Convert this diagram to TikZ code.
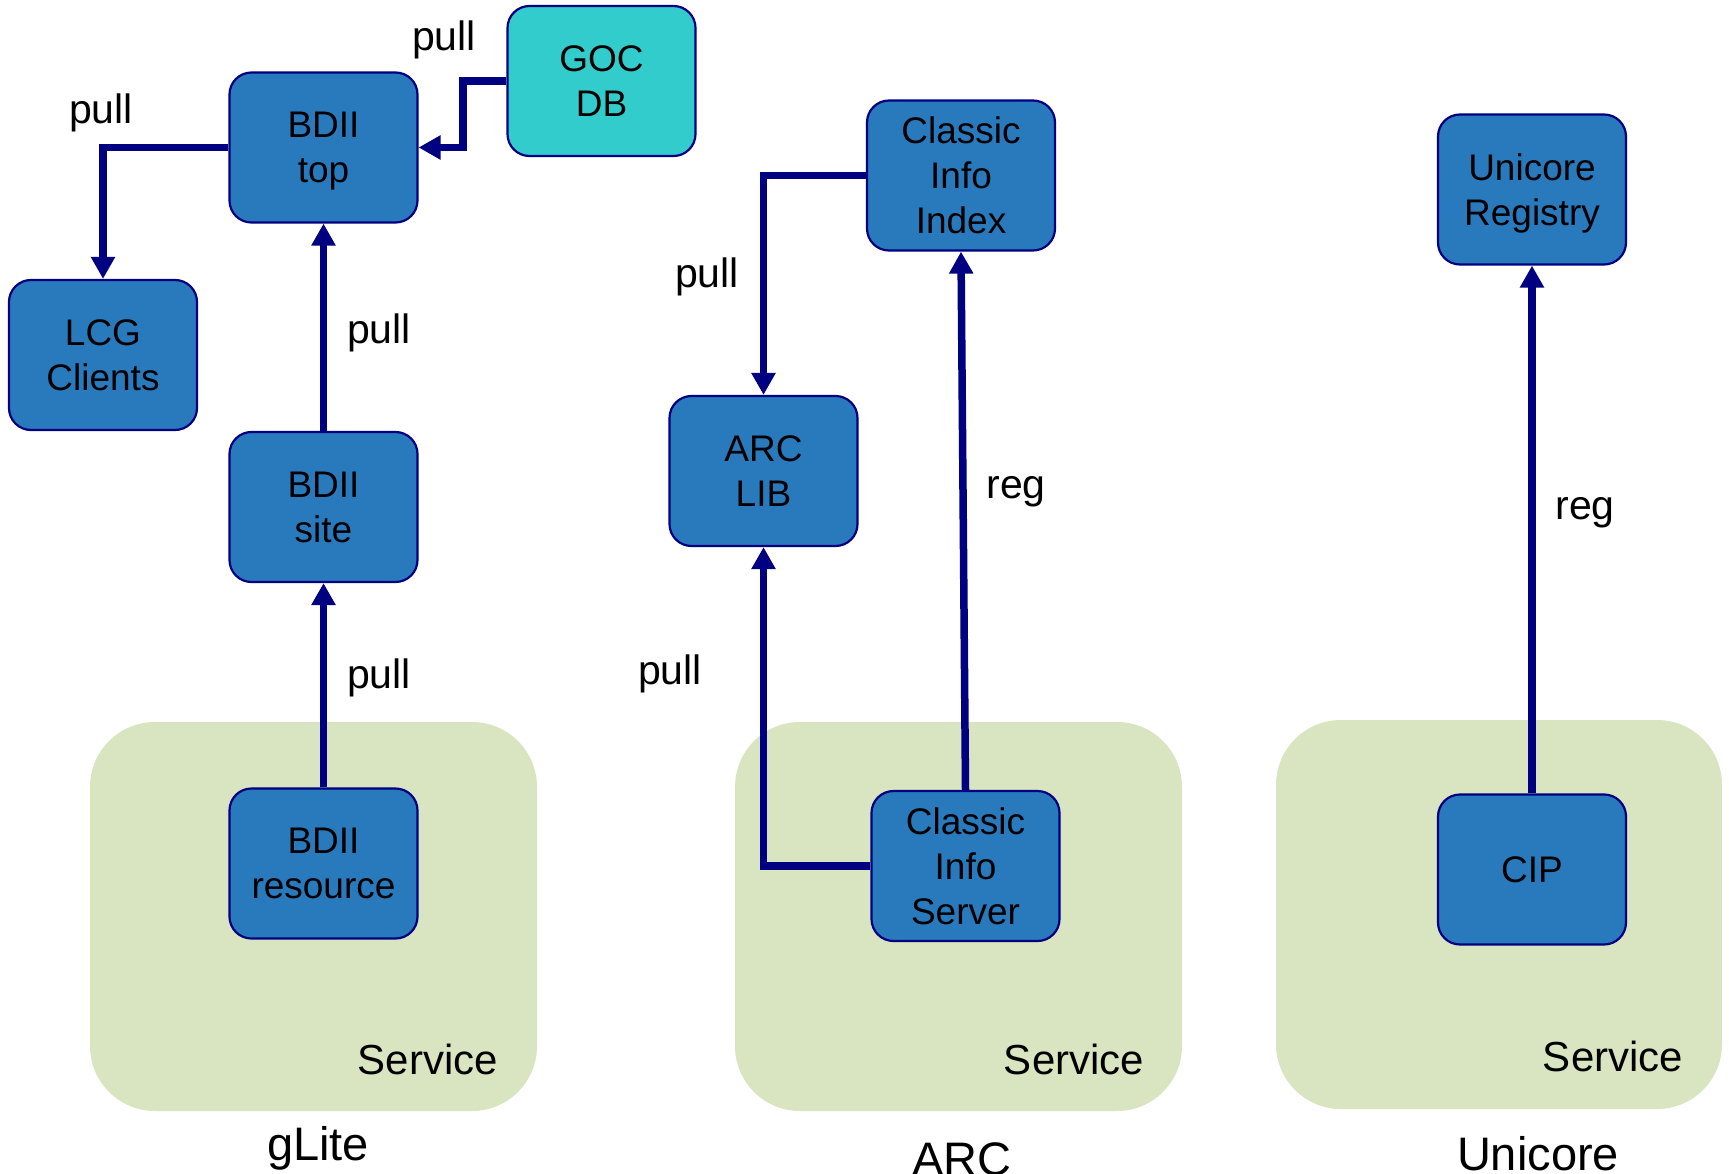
\documentclass[tikz,border=0pt]{standalone}
\usepackage{fontspec}
\setmainfont{Liberation Sans}
\usetikzlibrary{arrows.meta}
\definecolor{navy}{RGB}{0,0,128}
\definecolor{boxblue}{RGB}{41,121,189}
\definecolor{gocteal}{RGB}{51,204,204}
\definecolor{svcgreen}{RGB}{217,228,192}
\tikzset{
  comp/.style={draw=navy, line width=2.2pt, fill=boxblue, rounded corners=22pt,
    minimum width=188pt, minimum height=150pt, align=center, inner sep=0pt,
    text depth=-4.4pt, font=\fontsize{37}{45}\selectfont},
  goc/.style={comp, fill=gocteal},
  svc/.style={fill=svcgreen, rounded corners=65pt},
  conn/.style={draw=navy, line width=7.5pt, -{Triangle[length=22pt,width=23pt]}},
  lbl/.style={font=\fontsize{41}{48}\selectfont, inner sep=0pt},
  svclbl/.style={font=\fontsize{42}{48}\selectfont, inner sep=0pt},
  title/.style={font=\fontsize{47}{54}\selectfont, inner sep=0pt}
}
\begin{document}
\begin{tikzpicture}[x=1pt,y=-1pt]
\useasboundingbox (0,0) rectangle (1729,1174);
\fill[white] (0,0) rectangle (1729,1174);
% service regions
\fill[svc] (90,722) rectangle (537,1111);
\fill[svc] (735,722) rectangle (1182,1111);
\fill[svc] (1276,720) rectangle (1722,1109);
\node[svclbl] (svc1) at (428,1059) {Service};
\node[svclbl] (svc2) at (1074,1059) {Service};
\node[svclbl] (svc3) at (1613,1056) {Service};
% titles
\node[title] (t1) at (318,1148) {gLite};
\node[title] (t2) at (962,1159) {ARC};
\node[title] (t3) at (1538,1154) {Unicore};
% boxes
\node[goc]  (gocdb)   at (601.5,81)   {GOC\\DB};
\node[comp] (bdiitop) at (323.5,147.5) {BDII\\top};
\node[comp] (lcg)     at (103,355)    {LCG\\Clients};
\node[comp] (bdiisite) at (323.5,507) {BDII\\site};
\node[comp] (bdiires) at (323.5,863.5) {BDII\\resource};
\node[comp] (cii)     at (961,175.5)  {Classic\\Info\\Index};
\node[comp] (arclib)  at (763.5,471)  {ARC\\LIB};
\node[comp] (cis)     at (965.5,866)  {Classic\\Info\\Server};
\node[comp] (ureg)    at (1532,189.5) {Unicore\\Registry};
\node[comp] (cip)     at (1532,869.5) {CIP};
% connectors
\coordinate (gocbend) at (463,81);
\draw[conn] (gocdb.west) -- (gocbend) |- (bdiitop.east);
\draw[conn] (bdiitop.west) -| (lcg.north);
\draw[conn] (bdiisite.north) -- (bdiitop.south);
\draw[conn] (bdiires.north) -- (bdiisite.south);
\draw[conn] (cii.west) -| (arclib.north);
\draw[conn] (cis.west) -| (arclib.south);
\draw[conn] (cis.north) -- (cii.south);
\draw[conn] (cip.north) -- (ureg.south);
% labels
\node[lbl] (l1) at (444,40) {pull};
\node[lbl] (l2) at (101,113) {pull};
\node[lbl] (l3) at (379,333) {pull};
\node[lbl] (l4) at (379,678) {pull};
\node[lbl] (l5) at (707,277) {pull};
\node[lbl] (l6) at (1016,492) {reg};
\node[lbl] (l7) at (670,674) {pull};
\node[lbl] (l8) at (1585,513) {reg};
\end{tikzpicture}
\end{document}
